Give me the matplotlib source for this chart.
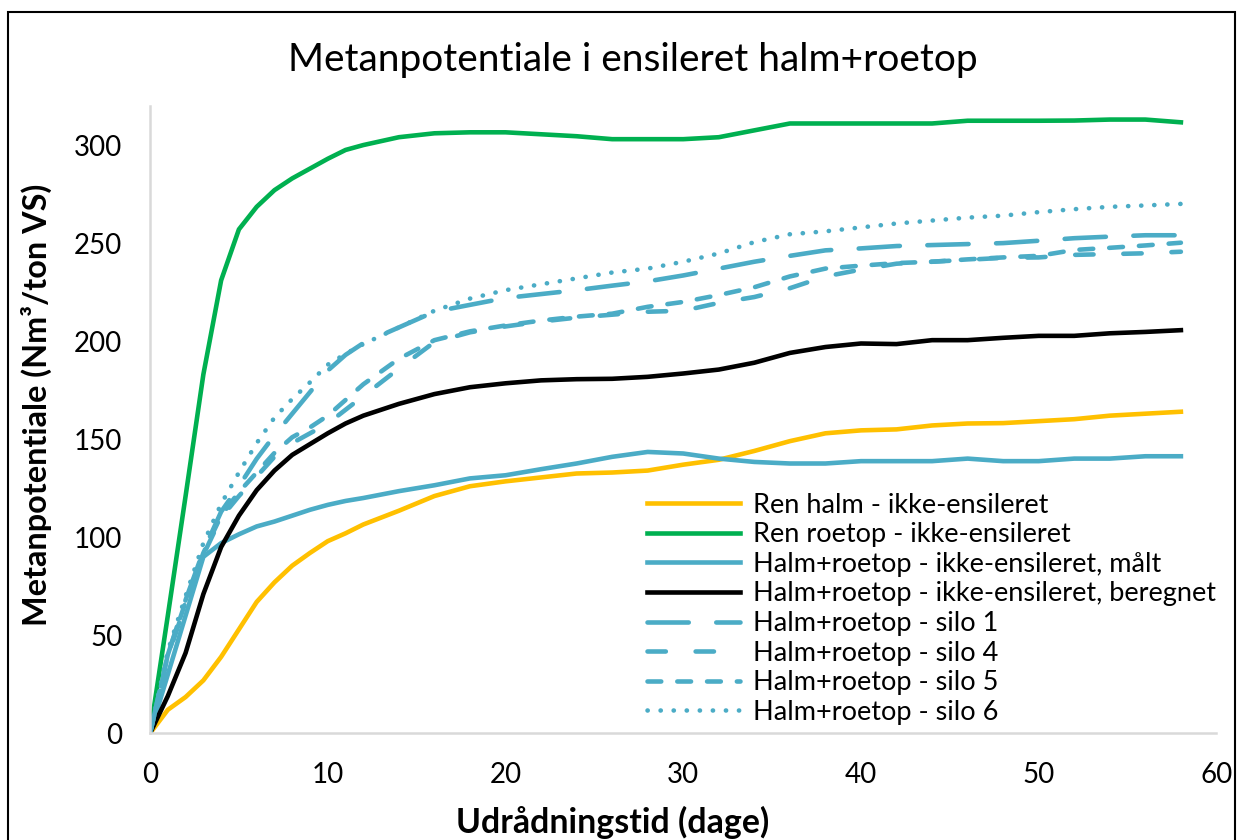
import matplotlib
matplotlib.use("Agg")
import matplotlib.pyplot as plt
from matplotlib.patches import Rectangle

days = [0, 1, 2, 3, 4, 5, 6, 7, 8, 9, 10, 11, 12, 14, 16, 18, 20, 22, 24, 26, 28, 30,
        32, 34, 36, 38, 40, 42, 44, 46, 48, 50, 52, 54, 56, 58]

ren_halm = [0, 12, 18.5, 27, 39, 53, 67, 77, 85.5, 92, 98, 102, 106.5, 113.5, 121, 126,
            128.5, 130.5, 132.5, 133, 134, 137, 139.5, 144, 149, 153, 154.5, 155, 157,
            158, 158.2, 159.2, 160.2, 162, 163, 164]
ren_roetop = [0, 60, 121, 183, 231, 257, 268.5, 277, 283, 288, 293, 297.5, 300, 304, 306,
              306.5, 306.5, 305.5, 304.5, 303, 303, 303, 304, 307.5, 311, 311, 311, 311,
              311, 312.4, 312.4, 312.4, 312.5, 313, 313, 311.6]
maalt = [0, 30, 60, 90, 97, 101.5, 105.5, 108, 111, 114, 116.5, 118.5, 120, 123.5, 126.5,
         130, 131.6, 134.7, 137.6, 141, 143.5, 142.7, 140.1, 138.4, 137.6, 137.6, 138.8,
         138.8, 138.8, 140.1, 138.8, 138.8, 140.1, 140.1, 141.3, 141.3]
beregnet = [0, 19, 41, 71, 95, 111, 124, 134, 142, 147.5, 153, 158, 162, 168, 173, 176.5,
            178.5, 180, 180.6, 180.8, 181.8, 183.5, 185.5, 189, 194, 197, 198.8, 198.5,
            200.5, 200.5, 201.7, 202.7, 202.7, 204, 204.7, 205.6]
silo1 = [0, 40, 68, 93, 113, 126, 140, 152, 163, 174, 185, 193, 199, 207, 215, 218.5, 222,
         224, 226, 228.3, 230.5, 233.5, 237, 240.5, 243.5, 246.3, 247.3, 248.5, 249, 249.5,
         250, 251.2, 252.5, 253.3, 254, 254]
silo4 = [0, 39, 66, 91, 110, 121, 131, 141, 148, 153, 158, 165, 172, 186, 199.5, 204.5,
         207.5, 210, 212, 213.5, 215, 215.5, 219.5, 222.5, 227, 233, 236.5, 239.5, 240.5,
         241.5, 242.5, 242.7, 244, 244.4, 244.8, 245.6]
silo5 = [0, 40, 67, 92, 111, 123, 133, 143, 151, 156, 162, 170, 178, 191, 200.5, 205, 208,
         210.5, 212.5, 214, 217.5, 220, 223.5, 227.5, 233, 237, 238.5, 239.8, 240.5, 241.7,
         242.7, 243.5, 246.5, 247.6, 248.8, 250.2]
silo6 = [0, 42, 70, 97, 117, 133, 148, 161, 170.5, 179, 188, 193.5, 198.5, 207, 215.5,
         221.7, 226, 229, 232, 235, 237, 240.5, 244.7, 250.5, 254.5, 256, 258, 260, 261.5,
         263, 264, 265.8, 267.3, 268.5, 269.2, 270]

plt.rcParams['font.family'] = ['Lato', 'DejaVu Sans']

fig = plt.figure(figsize=(12.4, 8.4), dpi=100)
ax = fig.add_axes([0.121, 0.127, 0.860, 0.747])

blue = '#4BACC6'
lw = 3.3
ax.plot(days, ren_halm, color='#FFC000', lw=lw, label='Ren halm - ikke-ensileret')
ax.plot(days, ren_roetop, color='#00B050', lw=lw, label='Ren roetop - ikke-ensileret')
ax.plot(days, maalt, color=blue, lw=lw, label='Halm+roetop - ikke-ensileret, målt')
ax.plot(days, beregnet, color='black', lw=lw, label='Halm+roetop - ikke-ensileret, beregnet')
ax.plot(days, silo1, color=blue, lw=lw, ls=(0, (9, 6)), dash_capstyle='round',
        label='Halm+roetop - silo 1')
ax.plot(days, silo4, color=blue, lw=lw, ls=(0, (4, 6.5)), dash_capstyle='round',
        label='Halm+roetop - silo 4')
ax.plot(days, silo5, color=blue, lw=lw, ls=(0, (3, 3.5)), dash_capstyle='round',
        label='Halm+roetop - silo 5')
ax.plot(days, silo6, color=blue, lw=lw, ls=(0, (0.05, 2.8)), dash_capstyle='round',
        label='Halm+roetop - silo 6')

ax.set_xlim(0, 60)
ax.set_ylim(0, 320)
ax.set_xticks(range(0, 61, 10))
ax.set_yticks(range(0, 301, 50))
ax.tick_params(length=0, labelsize=20)
ax.tick_params(axis='x', pad=21)
ax.tick_params(axis='y', pad=20)
for s in ['top', 'right']:
    ax.spines[s].set_visible(False)
for s in ['left', 'bottom']:
    ax.spines[s].set_color('#D9D9D9')
    ax.spines[s].set_linewidth(1.8)

ax.set_xlabel('Udrådningstid (dage)', fontsize=24.4, fontweight='bold')
ax.xaxis.set_label_coords(0.434, -0.115)
ax.set_ylabel('Metanpotentiale (Nm³/ton VS)', fontsize=23.3, fontweight='bold')
ax.yaxis.set_label_coords(-0.092, 0.523)
fig.text(0.51, 0.929, 'Metanpotentiale i ensileret halm+roetop', fontsize=28,
         ha='center', va='center')

ax.legend(loc='lower right', bbox_to_anchor=(1.0195, -0.021), frameon=False, fontsize=19.5,
          handlelength=3.43, handletextpad=0.45, labelspacing=0.17, borderpad=0.3)

fig.patches.append(Rectangle((8 / 1240, -0.02), 1227 / 1240, 1 - 12 / 840 + 0.02,
                             transform=fig.transFigure, fill=False, edgecolor='black',
                             linewidth=1.5))

fig.savefig('out.png', dpi=100)
